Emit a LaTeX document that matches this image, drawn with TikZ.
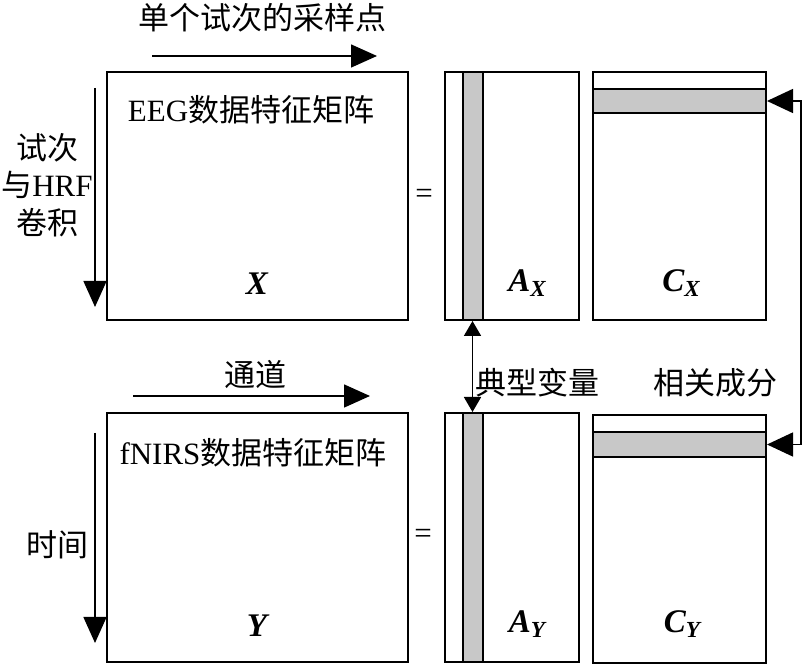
\documentclass[tikz,border=0pt]{standalone}
\usepackage{fontspec}
\setmainfont{Liberation Serif}
\newfontfamily\cjk{Noto Sans CJK SC}
\usetikzlibrary{positioning, arrows.meta}
\definecolor{bandgray}{RGB}{200,200,200}
\tikzset{
  matbox/.style={draw, line width=2pt, inner sep=0pt, minimum height=248pt},
  band/.style={draw, line width=2pt, fill=bandgray, inner sep=0pt},
  lbl/.style={inner sep=0pt, font=\fontsize{31}{37.5}\selectfont},
  symb/.style={inner sep=0pt, anchor=base, font=\fontsize{33}{33}\selectfont\bfseries\itshape},
  dirarrow/.style={-{Triangle[length=26pt,width=23pt]}, line width=1.5pt},
  linkarrow/.style={{Triangle[length=26pt,width=24pt]}-{Triangle[length=26pt,width=24pt]}, line width=1.5pt},
  vararrow/.style={{Triangle[length=15pt,width=17pt]}-{Triangle[length=15pt,width=17pt]}, line width=1.8pt},
}
\newcommand{\subsym}[2]{#1\raisebox{-5pt}{\fontsize{23}{23}\selectfont #2}}

\begin{document}
\begin{tikzpicture}[x=1pt, y=1pt]
  \useasboundingbox (0,0) rectangle (808,666);

  % 上半部分 EEG
  \node[matbox, minimum width=301pt] (X) at (257.5,470) {};
  \node[matbox, minimum width=134pt] (AX) at (512,470) {};
  \node[band, minimum width=20pt, minimum height=248pt] (axcol) at (472.5,470) {};
  \node[matbox, minimum width=173pt] (CX) at (679.5,470) {};
  \node[band, minimum width=173pt, minimum height=24pt] (cxrow) at (679.5,565) {};

  % 下半部分 fNIRS
  \node[matbox, minimum width=301pt, minimum height=249pt] (Y) at (257.5,128.5) {};
  \node[matbox, minimum width=134pt, minimum height=249pt] (AY) at (512,128.5) {};
  \node[band, minimum width=20pt, minimum height=249pt] (aycol) at (472.5,128.5) {};
  \node[matbox, minimum width=173pt] (CY) at (679.5,127) {};
  \node[band, minimum width=173pt, minimum height=25pt] (cyrow) at (679.5,221.5) {};

  % 方向箭头
  \coordinate (xtopa) at (152,610);
  \coordinate (xtopb) at (377,610);
  \coordinate (xlefta) at (95,578);
  \coordinate (xleftb) at (95,359);
  \coordinate (ytopa) at (133,270);
  \coordinate (ytopb) at (370,270);
  \coordinate (ylefta) at (95,233);
  \coordinate (yleftb) at (95,23);
  \draw[dirarrow] (xtopa) -- (xtopb);
  \draw[dirarrow] (xlefta) -- (xleftb);
  \draw[dirarrow] (ytopa) -- (ytopb);
  \draw[dirarrow] (ylefta) -- (yleftb);

  % 连接
  \draw[vararrow] (axcol.south) -- (aycol.north);
  \draw[linkarrow] (cxrow.east) -- ++(34,0) |- (cyrow.east);

  % 文字
  \node[lbl] (xdir) at (262,648) {\cjk 单个试次的采样点};
  \node[lbl, align=center] (xrow) at (47,481) {{\cjk 试次}\\{\cjk 与}HRF\\{\cjk 卷积}};
  \node[lbl] (xname) at (251,556) {EEG{\cjk 数据特征矩阵}};
  \node[lbl] (ydir) at (255,291) {\cjk 通道};
  \node[lbl] (yrow) at (57,121) {\cjk 时间};
  \node[lbl] (yname) at (253,213) {fNIRS{\cjk 数据特征矩阵}};
  \node[lbl] (eqx) at (424,470) {=};
  \node[lbl] (eqy) at (423,130) {=};
  \node[lbl] (varname) at (537,283) {\cjk 典型变量};
  \node[lbl] (compname) at (715,283) {\cjk 相关成分};

  % 矩阵符号
  \node[symb] (xsym) at (257,371) {X};
  \node[symb] (axsym) at (527,374) {\subsym{A}{X}};
  \node[symb] (cxsym) at (681,374) {\subsym{C}{X}};
  \node[symb] (ysym) at (257,29) {Y};
  \node[symb] (aysym) at (527,33) {\subsym{A}{Y}};
  \node[symb] (cysym) at (682,33) {\subsym{C}{Y}};
\end{tikzpicture}
\end{document}
